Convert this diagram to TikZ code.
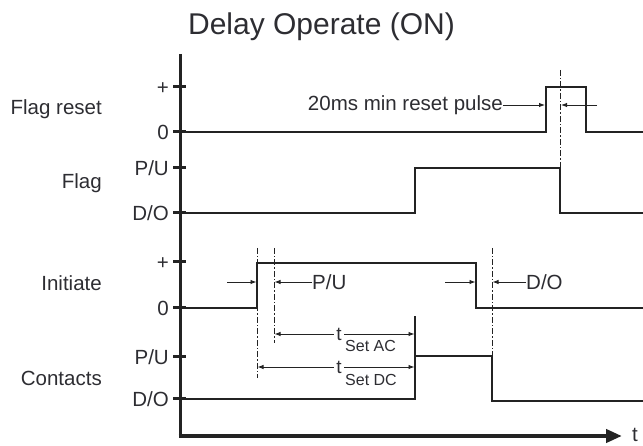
\documentclass[tikz,border=0pt]{standalone}
\usepackage{fontspec}
\setmainfont{Liberation Sans}
\usetikzlibrary{arrows.meta}
\definecolor{ink}{RGB}{35,35,35}
\definecolor{txt}{RGB}{45,45,50}
\begin{document}
\begin{tikzpicture}[x=1pt,y=-1pt,
  lbl/.style={font=\fontsize{20.5}{24}\selectfont, text=txt, inner sep=0pt},
  sublbl/.style={font=\fontsize{16}{19}\selectfont, text=txt, inner sep=0pt, anchor=base west},
  ticklbl/.style={lbl, anchor=base east},
  rowlbl/.style={lbl, anchor=base east},
  sig/.style={line width=1.4pt, draw=ink},
  dd/.style={line width=0.7pt, draw=ink, dash pattern=on 6pt off 2pt on 1.5pt off 2pt},
  dimr/.style={line width=0.9pt, draw=ink, -{Latex[length=6pt,width=4.5pt]}},
  dimb/.style={line width=0.9pt, draw=ink, {Latex[length=6pt,width=4.5pt]}-{Latex[length=6pt,width=4.5pt]}},
  tickmark/.style={line width=3pt, draw=ink},
]
\useasboundingbox (0,0) rectangle (643,446);

% title
\node[font=\fontsize{30}{34}\selectfont, text=txt, inner sep=0pt, anchor=base] (title) at (321.5,35) {Delay Operate (ON)};

% axes
\coordinate (ytop) at (180,54);
\coordinate (orig) at (180,436);
\coordinate (tend) at (622,436);
\draw[line width=3pt, draw=ink] (ytop) -- (orig);
\draw[line width=4.5pt, draw=ink, -{Triangle[length=16pt,width=13pt]}] (178.5,436) -- (tend);
\node[lbl, anchor=base west] (tlab) at (632,441) {t};

% ticks and tick labels
\foreach \yy/\tx/\nm in {87/+/a, 132/0/b, 168/P\slash U/c, 213/D\slash O/d, 262/+/e, 308/0/f, 357/P\slash U/g, 399/D\slash O/h}{
  \coordinate (tl\nm) at (173,\yy);
  \coordinate (tr\nm) at (186,\yy);
  \draw[tickmark] (tl\nm) -- (tr\nm);
  \node[ticklbl] (lab\nm) at (169,\yy+7.3) {\tx};
}

% row labels
\node[rowlbl] (rfr) at (102,115) {Flag reset};
\node[rowlbl] (rfl) at (102,189) {Flag};
\node[rowlbl] (rin) at (102,291) {Initiate};
\node[rowlbl] (rco) at (102,385) {Contacts};

% Flag reset signal
\coordinate (fr0) at (180,132);
\coordinate (fr1) at (546,132);
\coordinate (fr2) at (546,87);
\coordinate (fr3) at (586,87);
\coordinate (fr4) at (586,132);
\coordinate (fr5) at (643,132);
\draw[sig] (fr0) -- (fr1) -- (fr2) -- (fr3) -- (fr4) -- (fr5);

% Flag signal
\coordinate (fl0) at (180,213);
\coordinate (fl1) at (415,213);
\coordinate (fl2) at (415,168);
\coordinate (fl3) at (560,168);
\coordinate (fl4) at (560,213);
\coordinate (fl5) at (643,213);
\draw[sig] (fl0) -- (fl1) -- (fl2) -- (fl3) -- (fl4) -- (fl5);

% Initiate signal
\coordinate (in0) at (180,308);
\coordinate (in1) at (257,308);
\coordinate (in2) at (257,263);
\coordinate (in3) at (476,263);
\coordinate (in4) at (476,308);
\coordinate (in5) at (643,308);
\draw[sig] (in0) -- (in1) -- (in2) -- (in3) -- (in4) -- (in5);

% Contacts signal
\coordinate (co0) at (180,399);
\coordinate (co1) at (415,399);
\coordinate (coext) at (415,316);
\coordinate (co2) at (415,356);
\coordinate (co3) at (492,356);
\coordinate (co4) at (492,401);
\coordinate (co5) at (643,401);
\draw[sig] (co0) -- (co1) -- (coext);
\draw[sig] (co2) -- (co3) -- (co4) -- (co5);

% dash-dot reference lines
\coordinate (dA1) at (560,70);  \coordinate (dA2) at (560,168);
\coordinate (dB1) at (257,248); \coordinate (dB2) at (257,378);
\coordinate (dC1) at (274,248); \coordinate (dC2) at (274,343);
\coordinate (dD1) at (492,248); \coordinate (dD2) at (492,356);
\draw[dd] (dA1) -- (dA2);
\draw[dd] (dB1) -- (dB2);
\draw[dd] (dC1) -- (dC2);
\draw[dd] (dD1) -- (dD2);

% 20ms min reset pulse
\node[lbl, anchor=east] (pulse) at (503,105) {20ms min reset pulse};
\coordinate (pa) at (545,105);
\coordinate (pb1) at (597,105);
\coordinate (pb) at (561,105);
\draw[dimr] (pulse.east) -- (pa);
\draw[dimr] (pb1) -- (pb);

% Initiate P/U
\coordinate (ia1) at (227,282); \coordinate (ia) at (256.5,282);
\draw[dimr] (ia1) -- (ia);
\node[lbl, anchor=west] (pu) at (312,282) {P/U};
\coordinate (ib) at (274.5,282);
\draw[dimr] (pu.west) -- (ib);

% Initiate D/O
\coordinate (ic1) at (445,282); \coordinate (ic) at (475.5,282);
\draw[dimr] (ic1) -- (ic);
\node[lbl, anchor=west] (do) at (526,282) {D/O};
\coordinate (id) at (492.5,282);
\draw[dimr] (do.west) -- (id);

% t Set AC
\coordinate (acl) at (274.5,334); \coordinate (acr) at (414.5,334);
\draw[dimb] (acl) -- (acr);
\node[lbl, fill=white, inner xsep=2pt, inner ysep=1pt, anchor=base, font=\fontsize{19}{22}\selectfont] (tac) at (339,341) {t};
\node[sublbl] (sac) at (345,352) {Set AC};

% t Set DC
\coordinate (dcl) at (257.5,367); \coordinate (dcr) at (414.5,367);
\draw[dimb] (dcl) -- (dcr);
\node[lbl, fill=white, inner xsep=2pt, inner ysep=1pt, anchor=base, font=\fontsize{19}{22}\selectfont] (tdc) at (339,374) {t};
\node[sublbl] (sdc) at (345,386) {Set DC};
\end{tikzpicture}
\end{document}
